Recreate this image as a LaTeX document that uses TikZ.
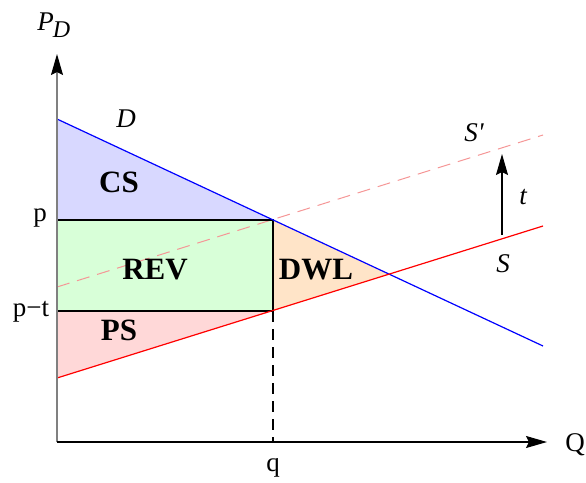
\documentclass[tikz,border=0pt]{standalone}
\usepackage{fontspec}
\setmainfont{Liberation Serif}
\usetikzlibrary{arrows.meta}
\definecolor{csfill}{RGB}{216,216,255}
\definecolor{revfill}{RGB}{216,255,216}
\definecolor{psfill}{RGB}{255,216,216}
\definecolor{dwlfill}{RGB}{255,228,200}
\definecolor{spcol}{RGB}{245,150,150}
\tikzset{
  tip/.tip={Stealth[length=21pt,width=12pt,inset=3pt,color=black]},
  ax/.style={line width=1.2pt,-tip},
  curve/.style={line width=1.2pt},
  lab/.style={font=\fontsize{27}{31}\selectfont},
  ilab/.style={font=\fontsize{27}{31}\selectfont\itshape},
  blab/.style={font=\fontsize{31}{35}\selectfont\bfseries},
}
\begin{document}
\begin{tikzpicture}[x=1pt,y=-1pt]
\useasboundingbox (0,0) rectangle (586,482);
% coordinates
\coordinate (O) at (57,442);
\coordinate (Ytop) at (57,54);
\coordinate (Ybot) at (57,442);
\coordinate (Xend) at (547,442);
\coordinate (D0) at (57,119);
\coordinate (D1) at (543,346);
\coordinate (S0) at (57,378);
\coordinate (S1) at (543,226);
\coordinate (Sp0) at (57,287);
\coordinate (Sp1) at (543,135);
\coordinate (P) at (57,220);
\coordinate (PT) at (57,311);
\coordinate (E) at (273,220);
\coordinate (F) at (273,311);
\coordinate (Q) at (273,442);
\coordinate (X) at (389,274);
\coordinate (T0) at (502,235);
\coordinate (T1) at (502,154);
% fills
\fill[csfill] (D0) -- (E) -- (P) -- cycle;
\fill[revfill] (P) -- (E) -- (F) -- (PT) -- cycle;
\fill[psfill] (PT) -- (F) -- (S0) -- cycle;
\fill[dwlfill] (E) -- (X) -- (F) -- cycle;
% dashed S'
\draw[spcol,line width=1pt,dash pattern=on 13pt off 8pt] (Sp0) -- (Sp1);
% black rectangle lines
\draw[line width=1.2pt] (P) -- (E) -- (F) -- (PT);
\draw[line width=1.2pt,dash pattern=on 11pt off 7pt] (F) -- (Q);
% curves
\draw[curve,blue] (D0) -- (D1);
\draw[curve,red] (S0) -- (S1);
% axes
\draw[ax,gray] (Ybot) -- (Ytop);
\draw[ax] (O) -- (Xend);
\draw[ax] (T0) -- (T1);
% labels
\node[lab] (lPD) at (54,25) {\textit{P\textsubscript{\kern-1pt\fontsize{24}{28}\selectfont D}}};
\node[ilab] (lD) at (126,119) {D};
\node[ilab] (lSp) at (474,133) {S\textquotesingle};
\node[ilab] (lt) at (523,197) {t};
\node[ilab] (lS) at (503,264) {S};
\node[lab] (lp) at (40,218) {p};
\node[lab] (lpt) at (31,312) {p−t};
\node[lab] (lq) at (273,468) {q};
\node[lab] (lQ) at (575,445) {Q};
\node[blab] (lCS) at (119,182) {CS};
\node[blab] (lREV) at (155,270) {REV};
\node[blab] (lPS) at (119,330) {PS};
\node[blab] (lDWL) at (316,270) {DWL};
\end{tikzpicture}
\end{document}
